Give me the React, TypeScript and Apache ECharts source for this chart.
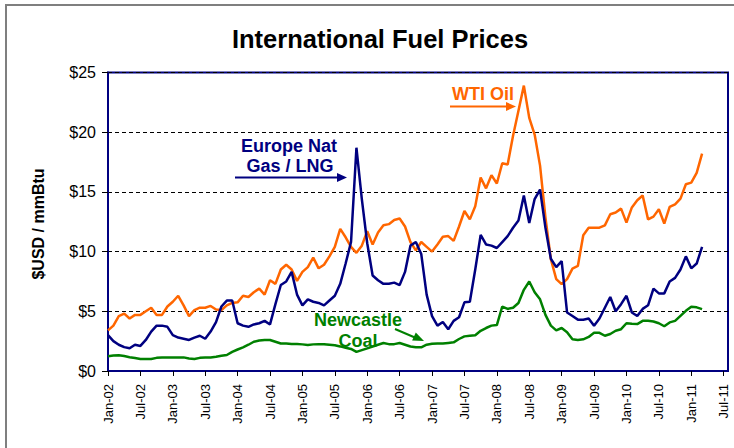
import React, { useEffect, useRef } from "react";
import * as echarts from "echarts";

// Monthly values, Jan-02 .. Mar-11 ($USD / mmBtu)
const gasLng = [
  3.0, 2.5, 2.2, 2.0, 1.9, 2.2, 2.1, 2.6, 3.3, 3.8,
  3.8, 3.7, 3.0, 2.8, 2.7, 2.6, 2.8, 2.95, 2.7, 3.3,
  4.1, 5.4, 5.9, 5.9, 4.0, 3.8, 3.7, 3.9, 4.0, 4.2,
  3.9, 5.6, 7.2, 7.5, 8.3, 6.4, 5.5, 6.0, 5.8, 5.7,
  5.5, 5.9, 6.3, 7.3, 9.0, 10.8, 18.7, 14.4, 10.7, 8.0,
  7.6, 7.3, 7.3, 7.4, 7.2, 8.3, 10.5, 10.8, 9.8, 6.4,
  4.6, 3.8, 4.1, 3.5, 4.2, 4.5, 5.75, 5.8, 8.5, 11.4,
  10.6, 10.5, 10.3, 10.8, 11.3, 12.0, 12.6, 14.7, 12.4, 14.4,
  15.2, 12.0, 9.4, 8.7, 9.2, 4.9, 4.6, 4.3, 4.3, 4.4,
  3.8, 4.4, 5.3, 6.2, 5.0, 5.6, 6.3, 4.9, 4.6, 5.2,
  5.5, 6.9, 6.5, 6.5, 7.5, 7.8, 8.5, 9.6, 8.6, 9.0,
  10.4,
];

const wtiOil = [
  3.4, 3.8, 4.6, 4.8, 4.4, 4.7, 4.7, 5.0, 5.3, 4.7,
  4.7, 5.4, 5.8, 6.3, 5.5, 4.6, 5.1, 5.3, 5.3, 5.45,
  5.15, 5.1, 5.5, 5.7, 5.75, 6.3, 6.2, 6.6, 6.9, 6.4,
  7.6, 7.3, 8.5, 8.9, 8.5, 7.55, 8.3, 8.7, 9.5, 8.6,
  8.9, 9.6, 10.4, 11.9, 11.2, 10.4, 9.9, 10.5, 11.7, 10.6,
  11.6, 12.2, 12.3, 12.65, 12.77, 12.1, 10.8, 10.1, 10.8, 10.4,
  10.0, 10.6, 11.25, 11.3, 10.9, 12.1, 13.4, 12.7, 13.8, 16.2,
  15.3, 16.4, 15.7, 17.4, 17.3, 19.7, 21.8, 23.9, 21.2, 19.8,
  17.2, 12.85, 9.36, 7.7, 7.27, 7.7, 8.58, 8.8, 11.37, 12.0,
  12.0, 12.0, 12.2, 13.13, 13.27, 13.6, 12.43, 13.7, 14.3, 14.7,
  12.7, 12.93, 13.55, 12.35, 13.74, 13.96, 14.44, 15.64, 15.78, 16.6,
  18.2,
];

const newcastleCoal = [
  1.23, 1.3, 1.32, 1.25, 1.15, 1.08, 1.0, 1.0, 1.0, 1.1,
  1.14, 1.14, 1.14, 1.14, 1.14, 1.05, 1.0, 1.1, 1.14, 1.14,
  1.2, 1.28, 1.34, 1.6, 1.8, 1.98, 2.2, 2.45, 2.55, 2.6,
  2.6, 2.45, 2.3, 2.3, 2.26, 2.26, 2.23, 2.17, 2.23, 2.25,
  2.25, 2.2, 2.15, 2.06, 1.95, 1.85, 1.6, 1.75, 1.9, 2.05,
  2.2, 2.34, 2.25, 2.25, 2.34, 2.2, 2.05, 1.98, 1.98, 2.2,
  2.28, 2.3, 2.3, 2.35, 2.4, 2.68, 2.9, 2.95, 3.0, 3.37,
  3.6, 3.8, 3.85, 5.4, 5.2, 5.3, 5.7, 6.8, 7.5, 6.6,
  6.0, 4.7, 3.8, 3.4, 3.6, 3.25, 2.65, 2.6, 2.65, 2.85,
  3.2, 3.2, 2.95, 3.1, 3.37, 3.5, 4.0, 3.95, 3.93, 4.2,
  4.2, 4.15, 4.0, 3.75, 4.07, 4.2, 4.62, 5.04, 5.38, 5.33,
  5.18,
];

// Tick labels, one every 6 months starting Jan-02
const xTickLabels = [
  "Jan-02", "Jul-02", "Jan-03", "Jul-03", "Jan-04", "Jul-04", "Jan-05",
  "Jul-05", "Jan-06", "Jul-06", "Jan-07", "Jul-07", "Jan-08", "Jul-08",
  "Jan-09", "Jul-09", "Jan-10", "Jul-10", "Jan-11", "Jul-11",
];
const yTicks = [0, 5, 10, 15, 20, 25];

const FONT = '"Liberation Sans", Arial, sans-serif';
const NAVY = "#000080";
const ORANGE = "#ff6600";
const GREEN = "#008000";

const toPoints = (arr: number[]) => arr.map((v, i) => [i, v]);

export default function App() {
  const ref = useRef<HTMLDivElement>(null);

  useEffect(() => {
    if (!ref.current) return;
    const chart = echarts.init(ref.current, null, { renderer: "svg" });

    const lineSeries = (name: string, data: number[], color: string) => ({
      name,
      type: "line",
      data: toPoints(data),
      showSymbol: false,
      symbol: "none",
      lineStyle: { color, width: 2.5 },
      itemStyle: { color },
      silent: true,
    });

    const arrowHead = (pts: number[][], color: string) => ({
      type: "polygon",
      shape: { points: pts },
      style: { fill: color },
    });

    const label = (text: string, x: number, y: number, color: string) => ({
      type: "text",
      x,
      y,
      style: {
        text,
        fontSize: 18,
        fontWeight: "bold",
        fontFamily: FONT,
        fill: color,
        align: "center",
        verticalAlign: "middle",
      },
    });

    chart.setOption({
      animation: false,
      backgroundColor: "#ffffff",
      grid: {
        left: 108,
        top: 72.5,
        width: 620,
        height: 298.5,
        show: true,
        borderColor: NAVY,
        borderWidth: 2,
      },
      xAxis: {
        type: "value",
        min: 0,
        max: 114.8,
        interval: 6,
        axisLine: { show: true, lineStyle: { color: NAVY, width: 2 } },
        axisTick: { show: true, length: 5, lineStyle: { color: "#000" } },
        splitLine: { show: false },
        axisLabel: {
          rotate: 90,
          fontSize: 13,
          fontFamily: FONT,
          color: "#000",
          margin: 13,
          showMaxLabel: false,
          formatter: (v: number) => {
            const r = Math.round(v);
            if (Math.abs(v - r) > 1e-6 || r % 6 !== 0) return "";
            return xTickLabels[r / 6] ?? "";
          },
        },
      },
      yAxis: {
        type: "value",
        min: yTicks[0],
        max: yTicks[yTicks.length - 1],
        interval: 5,
        axisLine: { show: true, lineStyle: { color: NAVY, width: 2 } },
        axisTick: { show: true, length: 6, lineStyle: { color: "#000" } },
        splitLine: {
          show: true,
          lineStyle: { color: "#000", width: 1, type: [4, 3] },
        },
        axisLabel: {
          fontSize: 16,
          fontFamily: FONT,
          color: "#000",
          margin: 12,
          formatter: (v: number) => "$" + v,
        },
      },
      series: [
        lineSeries("Newcastle Coal", newcastleCoal, GREEN),
        lineSeries("WTI Oil", wtiOil, ORANGE),
        lineSeries("Europe Nat Gas / LNG", gasLng, NAVY),
      ],
      graphic: [
        {
          type: "rect",
          silent: true,
          shape: { x: 6, y: 5, width: 760, height: 480 },
          style: { fill: "none", stroke: "#7f7f7f", lineWidth: 2 },
        },
        {
          type: "text",
          x: 380,
          y: 39,
          style: {
            text: "International Fuel Prices",
            fontSize: 25.5,
            fontWeight: "bold",
            fontFamily: FONT,
            fill: "#000",
            align: "center",
            verticalAlign: "middle",
          },
        },
        {
          type: "text",
          x: 38,
          y: 224,
          rotation: Math.PI / 2,
          style: {
            text: "$USD / mmBtu",
            fontSize: 16,
            fontWeight: "bold",
            fontFamily: FONT,
            fill: "#000",
            align: "center",
            verticalAlign: "middle",
          },
        },
        // Europe Nat Gas / LNG annotation
        label("Europe Nat", 289, 146, NAVY),
        label("Gas / LNG", 290, 166, NAVY),
        {
          type: "line",
          shape: { x1: 235, y1: 177.5, x2: 339, y2: 177.5 },
          style: { stroke: NAVY, lineWidth: 2 },
        },
        arrowHead([[337, 173], [347, 177.5], [337, 182]], NAVY),
        // WTI Oil annotation
        label("WTI Oil", 483, 94, ORANGE),
        {
          type: "line",
          shape: { x1: 450, y1: 106.5, x2: 508, y2: 106.5 },
          style: { stroke: ORANGE, lineWidth: 2 },
        },
        arrowHead([[506, 102], [516, 106.5], [506, 111]], ORANGE),
        // Newcastle Coal annotation
        label("Newcastle", 358, 320, GREEN),
        label("Coal", 358, 341, GREEN),
        {
          type: "line",
          shape: { x1: 395, y1: 329, x2: 416, y2: 338 },
          style: { stroke: GREEN, lineWidth: 2 },
        },
        arrowHead([[424, 341], [412.1, 340.6], [415.8, 332.4]], GREEN),
      ],
    });

    return () => chart.dispose();
  }, []);

  return (
    <div
      ref={ref}
      style={{
        position: "absolute",
        left: 0,
        top: 0,
        width: 734,
        height: 448,
        background: "#fff",
      }}
    />
  );
}
